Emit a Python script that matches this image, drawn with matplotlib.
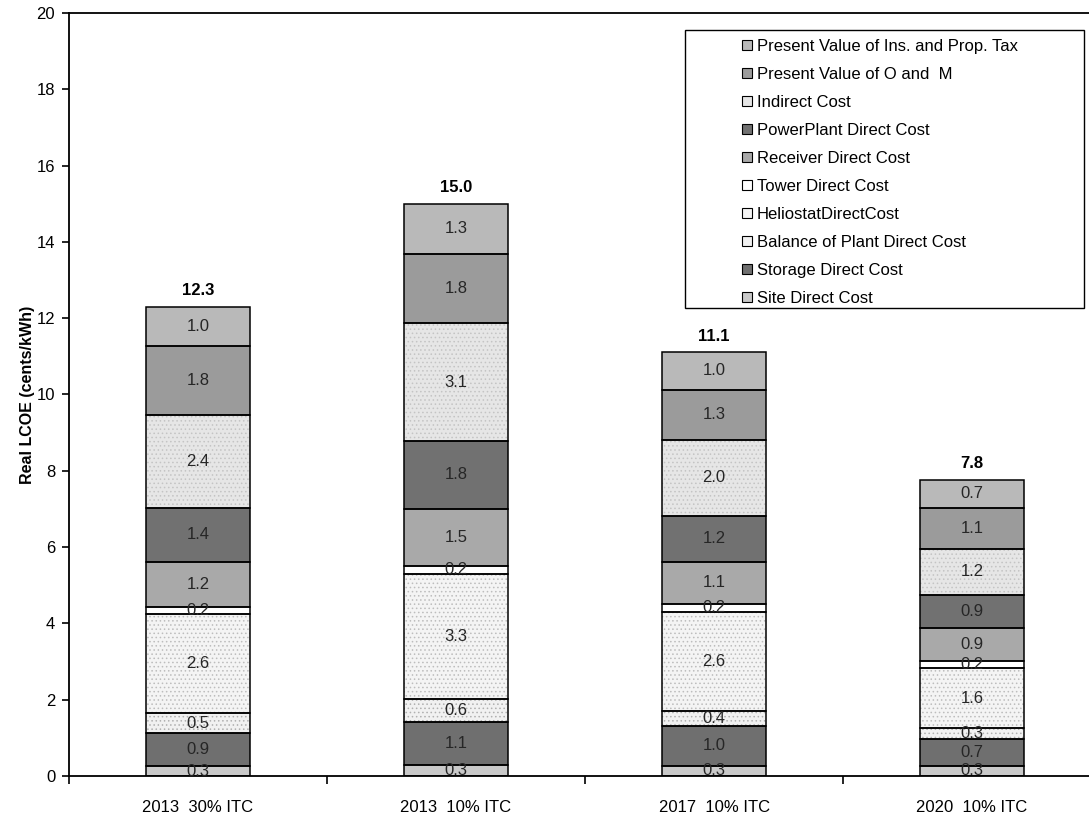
"""Stacked LCOE breakdown for the tower plant cases."""
import numpy as np
import matplotlib.pyplot as plt
from matplotlib.patches import Rectangle, Patch

plt.rcParams["font.family"] = ["Liberation Sans", "DejaVu Sans"]
plt.rcParams["hatch.linewidth"] = 0.6

cases = ["2013  30% ITC", "2013  10% ITC", "2017  10% ITC", "2020  10% ITC"]

# cost components, bottom of the stack first (cents/kWh)
site = [0.26, 0.29, 0.27, 0.27]
storage = [0.86, 1.12, 1.04, 0.70]
balance = [0.53, 0.62, 0.39, 0.28]
heliostat = [2.60, 3.26, 2.60, 1.58]
tower = [0.17, 0.22, 0.21, 0.18]
receiver = [1.20, 1.49, 1.10, 0.86]
power_plant = [1.40, 1.79, 1.21, 0.88]
indirect = [2.43, 3.07, 1.99, 1.20]
o_and_m = [1.82, 1.82, 1.31, 1.08]
ins_tax = [1.03, 1.32, 0.99, 0.74]

names = ["Site Direct Cost", "Storage Direct Cost", "Balance of Plant Direct Cost",
         "HeliostatDirectCost", "Tower Direct Cost", "Receiver Direct Cost",
         "PowerPlant Direct Cost", "Indirect Cost", "Present Value of O and  M",
         "Present Value of Ins. and Prop. Tax"]
series = [site, storage, balance, heliostat, tower, receiver,
          power_plant, indirect, o_and_m, ins_tax]

# fill grey, hatch pattern, hatch grey
styles = [
    ("#c9c9c9", "", None),
    ("#6f6f6f", "", None),
    ("#f1f1f1", "....", "#b0b0b0"),
    ("#f4f4f4", "....", "#bdbdbd"),
    ("#ffffff", "", None),
    ("#a9a9a9", "", None),
    ("#717171", "", None),
    ("#e6e6e6", "....", "#c4c4c4"),
    ("#9b9b9b", "", None),
    ("#b9b9b9", "", None),
]

fig = plt.figure(figsize=(10.89, 8.17), dpi=100)
ax = fig.add_axes([0.0634, 0.0502, 0.9477, 0.934])

x = np.arange(len(cases))
width = 0.4
bottom = np.zeros(len(cases))
for vals, (fc, hatch, hc), name in zip(series, styles, names):
    vals = np.array(vals)
    ax.bar(x, vals, width, bottom=bottom, color=fc, edgecolor=hc or fc,
           linewidth=0, hatch=hatch or None, zorder=2)
    ax.bar(x, vals, width, bottom=bottom, fill=False, edgecolor="black",
           linewidth=1.1, zorder=3)
    for xi, v, b in zip(x, vals, bottom):
        ax.text(xi, b + v / 2, f"{v:.1f}", ha="center", va="center",
                fontsize=12, color="#262626", zorder=4)
    bottom += vals

for xi, tot in zip(x, bottom):
    ax.annotate(f"{tot:.1f}", (xi, tot), xytext=(0, 6), textcoords="offset points",
                ha="center", va="bottom", fontsize=12, fontweight="bold")

ax.set_xlim(-0.5, len(cases) - 0.5)
ax.set_ylim(0, 20)
ax.set_yticks(np.arange(0, 21, 2))
ax.set_xticks(x)
ax.set_xticklabels(cases)
ax.set_xticks(np.arange(-0.5, len(cases), 1), minor=True)
ax.tick_params(axis="x", which="major", length=0, pad=17, labelsize=12)
ax.tick_params(axis="x", which="minor", length=6, width=1.2, direction="out")
ax.tick_params(axis="y", length=5, width=1.2, direction="out", labelsize=12, pad=5)
for s in ("left", "bottom", "top"):
    ax.spines[s].set_linewidth(1.3)
ax.spines["right"].set_visible(False)

ax.set_ylabel("Real LCOE (cents/kWh)", fontsize=11.5, fontweight="bold", labelpad=1)

# legend, top entry first, inside a plain box
ax.add_patch(Rectangle((0.597, 0.613), 0.386, 0.365, transform=ax.transAxes,
                       fill=False, edgecolor="black", linewidth=1.0, zorder=5))
handles = [Patch(facecolor=fc, edgecolor="black", linewidth=0.8,
                 hatch=None) for fc, _, _ in styles]
ax.legend(handles[::-1], names[::-1], loc="upper left",
          bbox_to_anchor=(0.652, 0.966), frameon=False, fontsize=12,
          handlelength=0.6, handleheight=0.6, handletextpad=0.3,
          labelspacing=0.78, borderpad=0, borderaxespad=0)

fig.savefig("out.png", dpi=100)
